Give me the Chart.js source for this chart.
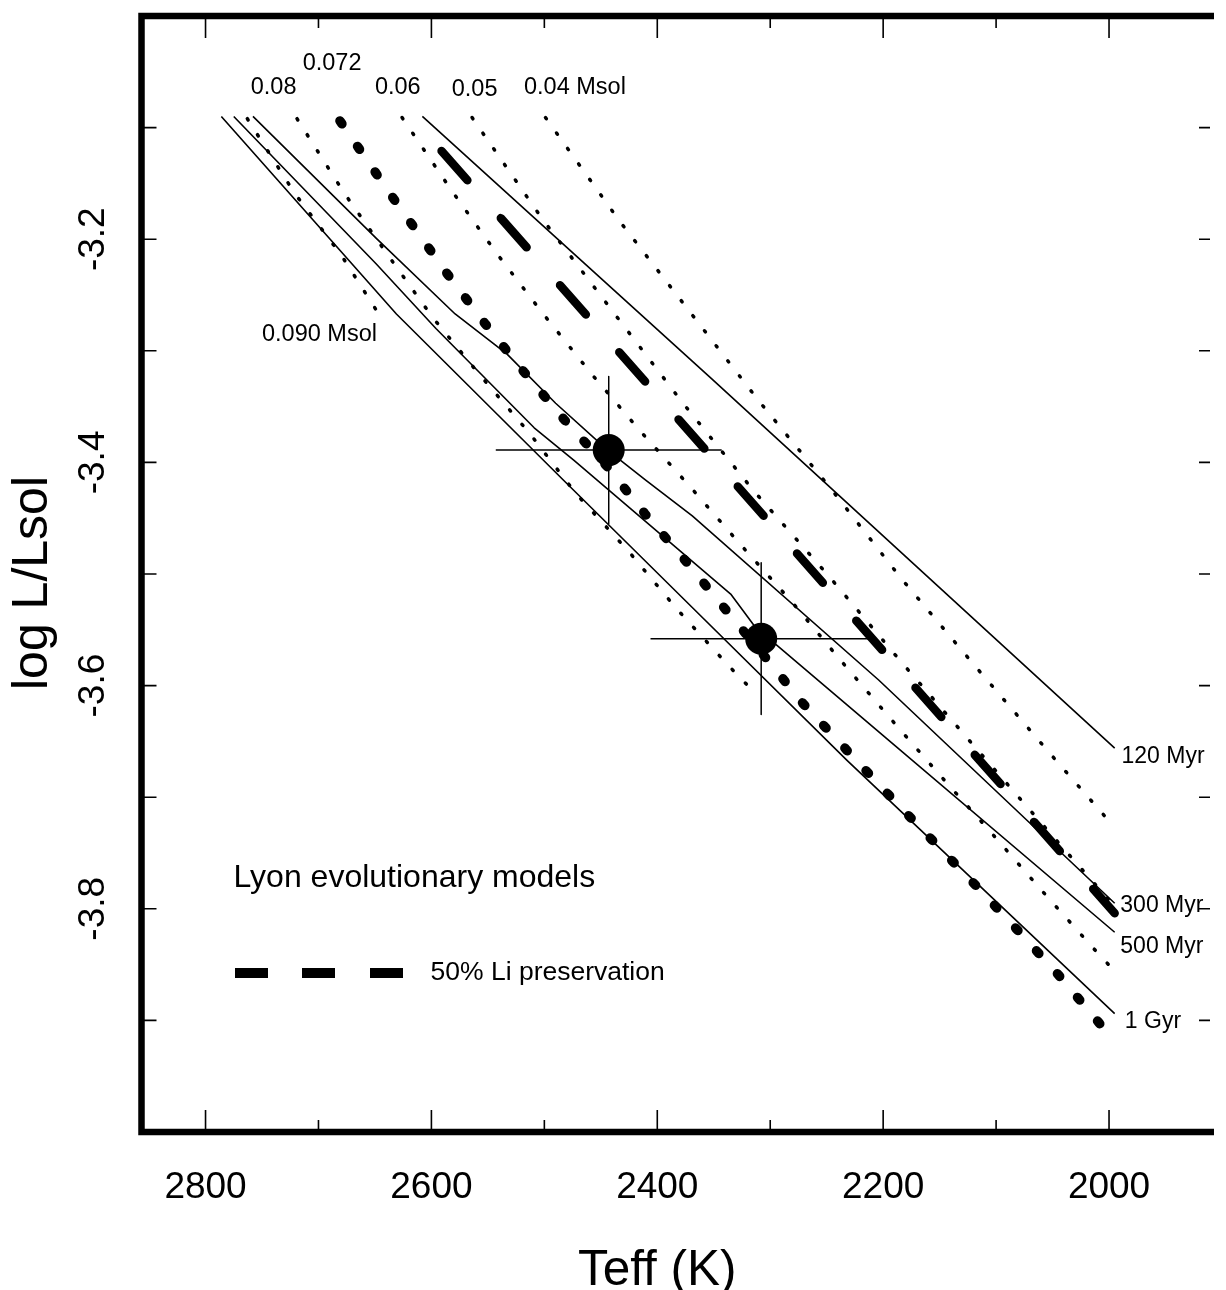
<!DOCTYPE html>
<html>
<head>
<meta charset="utf-8">
<script src="https://cdn.jsdelivr.net/npm/chart.js@4.4.1/dist/chart.umd.min.js"></script>
<style>
  html, body { margin: 0; padding: 0; background: #fff; overflow: hidden; }
  #wrap { width: 1226px; height: 1290px; }
  canvas { display: block; }
</style>
</head>
<body>
<div id="wrap"><canvas id="hr" width="1226" height="1290"></canvas></div>
<script>
// axis ticks
const xTicks = [2800, 2700, 2600, 2500, 2400, 2300, 2200, 2100, 2000];
const xLabels = [2800, 2600, 2400, 2200, 2000];
const yTicks = [-3.1, -3.2, -3.3, -3.4, -3.5, -3.6, -3.7, -3.8, -3.9];
const yLabels = [-3.2, -3.4, -3.6, -3.8];

// isochrones (Teff, log L/Lsol)
const iso120T = [2608, 2352, 1995];
const iso120L = [-3.090, -3.325, -3.656];
const iso300T = [2758, 2649, 2579, 2533, 2490, 2444, 2410, 2369, 2204, 1995];
const iso300L = [-3.090, -3.199, -3.267, -3.303, -3.347, -3.389, -3.416, -3.448, -3.595, -3.795];
const iso500T = [2775, 2649, 2596, 2509, 2474, 2335, 2313, 2294, 2195, 1995];
const iso500L = [-3.090, -3.222, -3.280, -3.369, -3.398, -3.518, -3.548, -3.564, -3.649, -3.821];
const iso1GT = [2786, 2631, 2483, 2369, 2232, 1995];
const iso1GL = [-3.090, -3.267, -3.416, -3.530, -3.667, -3.894];
const ageNames = ["120 Myr", "300 Myr", "500 Myr", "1 Gyr"];

// mass tracks
const m090T = [2763, 2721, 2680, 2646];
const m090L = [-3.092, -3.159, -3.214, -3.268];
const m080T = [2719, 2677, 2638, 2599, 2556, 2513, 2472, 2426, 2383, 2338, 2316];
const m080L = [-3.092, -3.159, -3.215, -3.270, -3.323, -3.374, -3.428, -3.479, -3.531, -3.581, -3.604];
const m072T = [2681, 2634, 2586, 2553, 2518, 2483, 2445, 2411, 2376, 2341, 2304, 2271, 2233, 2196, 2157, 2119, 2082, 2045, 2009, 1995];
const m072L = [-3.094, -3.163, -3.231, -3.275, -3.319, -3.361, -3.403, -3.446, -3.487, -3.530, -3.575, -3.616, -3.657, -3.697, -3.738, -3.778, -3.818, -3.859, -3.902, -3.919];
const m060T = [2626, 2581, 2542, 2501, 2458, 2415, 2369, 2326, 2280, 2238, 2194, 2150, 2105, 2061, 2016, 1995];
const m060L = [-3.091, -3.158, -3.213, -3.267, -3.321, -3.372, -3.424, -3.474, -3.526, -3.577, -3.629, -3.680, -3.731, -3.782, -3.833, -3.856];
const m050T = [2564, 2501, 2440, 2378, 2315, 2248, 2183, 2117, 2055, 1995];
const m050L = [-3.091, -3.183, -3.264, -3.346, -3.425, -3.502, -3.580, -3.657, -3.729, -3.798];
const m040T = [2499, 2434, 2372, 2310, 2246, 2184, 2119, 2053, 1996];
const m040L = [-3.091, -3.183, -3.264, -3.345, -3.424, -3.504, -3.582, -3.660, -3.726];
const massNames = ["0.090 Msol", "0.08", "0.072", "0.06", "0.05", "0.04 Msol"];

// 50% lithium preservation line
const liT = [2591, 1995];
const liL = [-3.121, -3.804];

// the two objects, with errors
const starT = [2443, 2308];
const starL = [-3.389, -3.558];
const starTErr = [100, 98];
const starLErr = [0.066, 0.068];

const FONT = '"Liberation Sans", Arial, Helvetica, sans-serif';
const pts = (T, L) => T.map((t, i) => ({ x: t, y: L[i] }));

function track(T, L, width, dash) {
  return {
    data: pts(T, L), showLine: true, borderColor: "#000", borderWidth: width,
    borderDash: dash, borderCapStyle: dash.length ? "round" : "butt", borderJoinStyle: "round",
    pointRadius: 0, pointHoverRadius: 0, fill: false, tension: 0,
  };
}

const thinDot = [1.5, 17.5], boldDot = [3.5, 27.5], liDash = [39, 50.5];

const datasets = [
  { data: pts(starT, starL), showLine: false, pointRadius: 16, pointBackgroundColor: "#000", pointBorderWidth: 0 },
];
starT.forEach((t, i) => {
  datasets.push(track([t + starTErr[i], t - starTErr[i]], [starL[i], starL[i]], 1.5, []));
  datasets.push(track([t, t], [starL[i] + starLErr[i], starL[i] - starLErr[i]], 1.5, []));
});
datasets.push(
  track(iso120T, iso120L, 1.6, []),
  track(iso300T, iso300L, 1.6, []),
  track(iso500T, iso500L, 1.6, []),
  track(iso1GT, iso1GL, 1.6, []),
  track(m090T, m090L, 3.5, thinDot),
  track(m080T, m080L, 3.5, thinDot),
  track(m060T, m060L, 3.5, thinDot),
  track(m050T, m050L, 3.5, thinDot),
  track(m040T, m040L, 3.5, thinDot),
  track(m072T, m072L, 9.5, boldDot),
  track(liT, liL, 8.5, liDash),
);

// frame, inward ticks, labels and notes
const decor = {
  id: "decor",
  afterDatasetsDraw(chart) {
    const { ctx, chartArea: a } = chart;
    const X = v => chart.scales.x.getPixelForValue(v);
    const Y = v => chart.scales.y.getPixelForValue(v);
    ctx.save();
    ctx.strokeStyle = "#000";
    ctx.fillStyle = "#000";

    ctx.lineWidth = 1.6;
    ctx.beginPath();
    xTicks.forEach(v => {
      const p = X(v), len = xLabels.includes(v) ? 22 : 12;
      ctx.moveTo(p, a.top); ctx.lineTo(p, a.top + len);
      ctx.moveTo(p, a.bottom); ctx.lineTo(p, a.bottom - len);
    });
    yTicks.forEach(v => {
      const p = Y(v);
      ctx.moveTo(a.left, p); ctx.lineTo(a.left + 15, p);
      ctx.moveTo(a.right, p); ctx.lineTo(a.right - 11, p);
    });
    ctx.stroke();

    // frame: the right edge lies just outside the picture
    ctx.lineWidth = 6.5;
    ctx.beginPath();
    ctx.moveTo(a.right + 4, a.top);
    ctx.lineTo(a.left, a.top);
    ctx.lineTo(a.left, a.bottom);
    ctx.lineTo(a.right + 4, a.bottom);
    ctx.stroke();

    // tick labels
    ctx.textAlign = "center";
    ctx.textBaseline = "middle";
    ctx.font = `37px ${FONT}`;
    xLabels.forEach(v => ctx.fillText(String(v), X(v), a.bottom + 56));
    yLabels.forEach(v => {
      ctx.save();
      ctx.translate(a.left - 48, Y(v));
      ctx.rotate(-Math.PI / 2);
      ctx.fillText(v.toFixed(1), 0, 0);
      ctx.restore();
    });

    // axis titles
    ctx.font = `49.5px ${FONT}`;
    ctx.fillText("Teff (K)", X(2400), a.bottom + 139);
    ctx.font = `50px ${FONT}`;
    ctx.save();
    ctx.translate(a.left - 108.5, a.top + 567);
    ctx.rotate(-Math.PI / 2);
    ctx.fillText("log L/Lsol", 0, 0);
    ctx.restore();

    // mass labels
    ctx.textAlign = "left";
    ctx.font = `23.5px ${FONT}`;
    const massPos = [[2750, -3.285], [2760, -3.0645], [2714, -3.043], [2650, -3.0645], [2582, -3.0655], [2518, -3.0645]];
    massNames.forEach((s, i) => ctx.fillText(s, X(massPos[i][0]), Y(massPos[i][1])));

    // age labels
    ctx.font = `23px ${FONT}`;
    const agePos = [[1989, -3.664], [1990, -3.797], [1990, -3.834], [1986, -3.901]];
    ageNames.forEach((s, i) => ctx.fillText(s, X(agePos[i][0]), Y(agePos[i][1])));

    // legend
    ctx.font = `32px ${FONT}`;
    ctx.fillText("Lyon evolutionary models", a.left + 92, a.top + 862);
    ctx.font = `26.5px ${FONT}`;
    ctx.fillText("50% Li preservation", a.left + 289, a.top + 957);
    [93.5, 160.5, 228.5].forEach(dx => ctx.fillRect(a.left + dx, a.top + 952, 33, 10));

    ctx.restore();
  },
};

new Chart(document.getElementById("hr"), {
  type: "scatter",
  data: { datasets },
  options: {
    responsive: false,
    animation: false,
    devicePixelRatio: 1,
    events: [],
    layout: { padding: { left: 141.5, top: 15, right: 0, bottom: 158 } },
    plugins: { legend: { display: false }, tooltip: { enabled: false } },
    scales: {
      x: { type: "linear", reverse: true, min: 1910.6, max: 2856.7, display: false },
      y: { type: "linear", min: -4, max: -3, display: false },
    },
  },
  plugins: [decor],
});
</script>
</body>
</html>
